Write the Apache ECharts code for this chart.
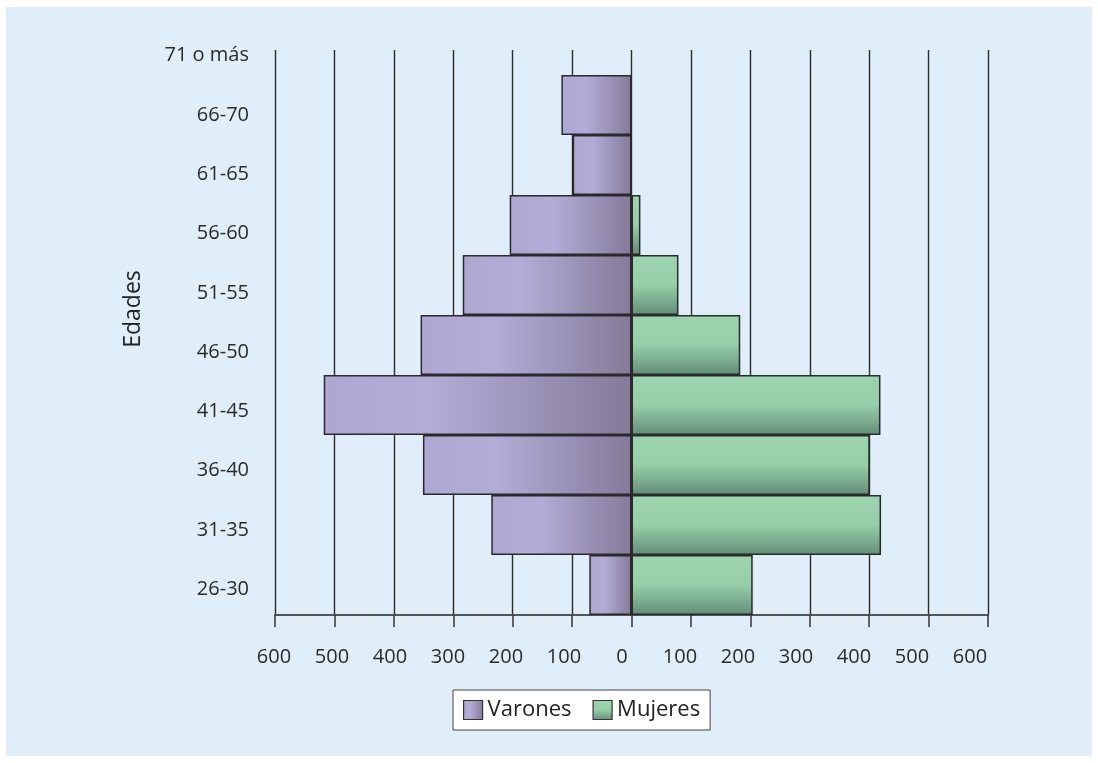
<!DOCTYPE html>
<html>
<head>
<meta charset="utf-8">
<script src="https://cdn.jsdelivr.net/npm/echarts@6/dist/echarts.min.js"></script>
<style>
html,body{margin:0;padding:0;background:#ffffff;}
#c{width:1098px;height:763px;}
</style>
</head>
<body>
<div id="c"></div>
<script>
const categories = ['26-30','31-35','36-40','41-45','46-50','51-55','56-60','61-65','66-70','71 o más'];
const varones = [71, 236, 351, 518, 355, 284, 205, 99, 118, 0];
const mujeres = [204, 420, 401, 419, 183, 79, 15, 0, 0, 0];
const xMin = -600, xMax = 600, xStep = 100;
const yTitle = 'Edades';
const seriesNames = ['Varones', 'Mujeres'];

const FONT = '"Open Sans", sans-serif';
const gradV = {type:'linear', x:0, y:0, x2:1, y2:0, colorStops:[
  {offset:0, color:'#aea7d2'},{offset:0.35, color:'#b2acd7'},{offset:1, color:'#857a99'}]};
const gradM = {type:'linear', x:0, y:0, x2:0, y2:1, colorStops:[
  {offset:0, color:'#9bd5ae'},{offset:0.5, color:'#96cea8'},{offset:1, color:'#628d77'}]};
const border = {borderColor:'#2a2a2a', borderWidth:1.5};

function toData(arr, sign){
  return arr.map(v => v === 0 ? {value:0, itemStyle:{borderWidth:0}} : sign*v);
}

const chart = echarts.init(document.getElementById('c'), null, {renderer:'canvas'});
chart.setOption({
  animation:false,
  backgroundColor:'#ffffff',
  graphic:[
    {type:'rect', z:-10, silent:true, shape:{x:6, y:7, width:1086, height:749}, style:{fill:'#e0eef9'}},
    {type:'text', left:122, top:268, rotation:Math.PI/2, silent:true,
     style:{text:yTitle, font:'23px ' + FONT, fill:'#222', textAlign:'center', textVerticalAlign:'middle'},
     position:[133,309], left:null, top:null}
  ],
  textStyle:{fontFamily:FONT},
  grid:[
    {left:275, width:713, top:50, height:565},
    {left:275, width:713, top:15, height:600},
    {left:274, width:696, top:26, height:593}
  ],
  xAxis:[
    {gridIndex:0, type:'value', min:xMin, max:xMax, interval:xStep,
     axisLine:{show:true, onZero:false, lineStyle:{color:'#555', width:2}},
     axisTick:{show:true, length:12, lineStyle:{color:'#333', width:1.5}},
     axisLabel:{show:false},
     splitLine:{show:true, lineStyle:{color:'#2a2a2a', width:1.4}}},
    {gridIndex:1, type:'value', min:xMin, max:xMax, show:false},
    {gridIndex:2, type:'value', min:xMin, max:xMax, interval:xStep,
     axisLine:{show:false}, axisTick:{show:false}, splitLine:{show:false},
     axisLabel:{show:true, margin:28, fontSize:20, color:'#2a2a2a', fontFamily:FONT,
       formatter:v => String(Math.abs(v))}}
  ],
  yAxis:[
    {gridIndex:0, type:'category', data:categories, show:false},
    {gridIndex:1, type:'category', data:categories, show:false},
    {gridIndex:2, type:'category', data:categories,
     axisLine:{show:false}, axisTick:{show:false}, splitLine:{show:false},
     axisLabel:{show:true, margin:25, fontSize:20, color:'#2a2a2a', fontFamily:FONT}}
  ],
  legend:{
    left:453, top:690, orient:'horizontal',
    backgroundColor:'#ffffff', borderColor:'#444', borderWidth:1,
    padding:[9,10,9,10], itemWidth:19, itemHeight:19, itemGap:21,
    textStyle:{fontSize:22, color:'#222', fontFamily:FONT},
    data:[
      {name:seriesNames[0], icon:'rect', itemStyle:{color:gradV, borderColor:'#333', borderWidth:1.2}},
      {name:seriesNames[1], icon:'rect', itemStyle:{color:gradM, borderColor:'#333', borderWidth:1.2}}
    ]
  },
  series:[
    {name:seriesNames[0], type:'bar', xAxisIndex:1, yAxisIndex:1,
     data:toData(varones, -1), barWidth:'100%', barGap:'-100%',
     itemStyle:Object.assign({color:gradV}, border)},
    {name:seriesNames[1], type:'bar', xAxisIndex:1, yAxisIndex:1,
     data:toData(mujeres, 1), barWidth:'100%', barGap:'-100%',
     itemStyle:Object.assign({color:gradM}, border)}
  ]
});
</script>
</body>
</html>
